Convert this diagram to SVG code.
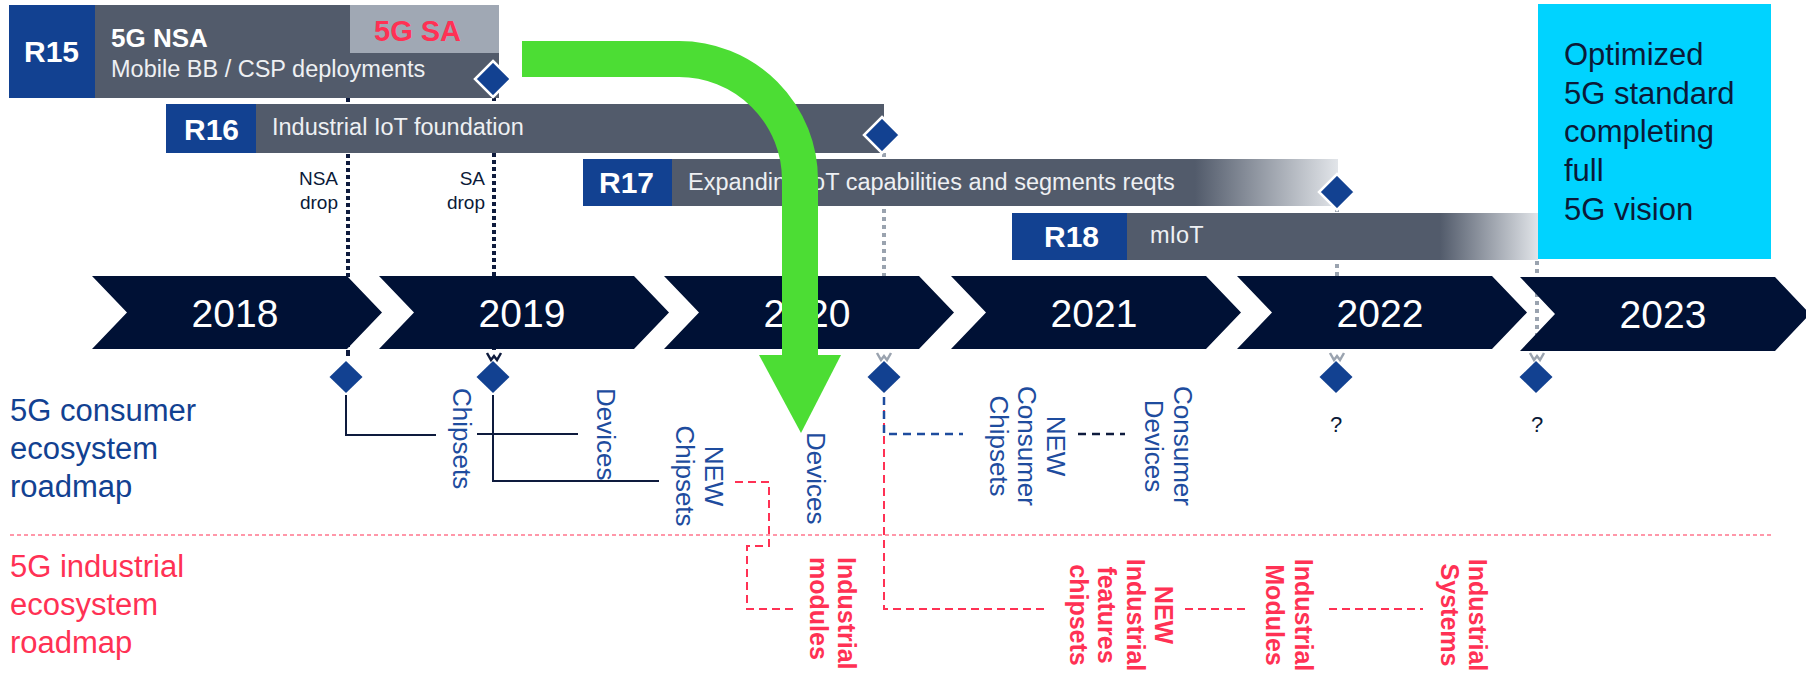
<svg xmlns="http://www.w3.org/2000/svg" width="1806" height="673" viewBox="0 0 1806 673">
<defs>
<linearGradient id="g17" gradientUnits="userSpaceOnUse" x1="1195" y1="0" x2="1340" y2="0"><stop offset="0" stop-color="#525B6B"/><stop offset="1" stop-color="#E4E7EB"/></linearGradient>
<linearGradient id="g18" gradientUnits="userSpaceOnUse" x1="1440" y1="0" x2="1540" y2="0"><stop offset="0" stop-color="#525B6B"/><stop offset="1" stop-color="#E4E7EB"/></linearGradient>
<style>
.bar{fill:#525B6B}
.rbox{fill:#124191}
.rl{font-family:"Liberation Sans",Arial,sans-serif;font-weight:bold;font-size:30px;fill:#fff}
.desc{font-family:"Liberation Sans",Arial,sans-serif;font-size:23.5px;fill:#EEF0F3}
.chev{fill:#001135}
.year{font-family:"Liberation Sans",Arial,sans-serif;font-size:39px;fill:#fff;text-anchor:middle}
.dia{fill:#124191}
.diaw{fill:#124191;stroke:#fff;stroke-width:2.5}
.bl{font-family:"Liberation Sans",Arial,sans-serif;font-size:26px;fill:#1E4C9E}
.rd{font-family:"Liberation Sans",Arial,sans-serif;font-weight:bold;font-size:25px;fill:#FF3154}
.nv{font-family:"Liberation Sans",Arial,sans-serif;fill:#0B1A38}
.side{font-family:"Liberation Sans",Arial,sans-serif;font-size:31px}
.dotn{stroke:#0E1B3D;stroke-width:4;stroke-dasharray:4 3;fill:none}
.dotg{stroke:#9AA3AF;stroke-width:4;stroke-dasharray:4 4;fill:none}
.solid{stroke:#0E1B3D;stroke-width:2;fill:none}
.rdash{stroke:#FF3154;stroke-width:2;stroke-dasharray:8 5;fill:none}
.bdash{stroke:#1E4C9E;stroke-width:2.5;stroke-dasharray:8 6;fill:none}
.ndash{stroke:#0E1B3D;stroke-width:2.5;stroke-dasharray:8 6;fill:none}
.wn{stroke:#0E1B3D;stroke-width:2.5;fill:none}
.wg{stroke:#9AA3AF;stroke-width:2.5;fill:none}
</style>
</defs>
<rect width="1806" height="673" fill="#fff"/>

<g id="connectors">
<line class="dotn" x1="348" y1="98" x2="348" y2="357"/>
<line class="dotn" x1="494" y1="97" x2="494" y2="350"/>
<path class="wn" d="M487,353 L491,360 L494,356 L497,360 L501,353"/>
<line class="dotg" x1="884" y1="153" x2="884" y2="350"/>
<path class="wg" d="M877,353 L881,360 L884,356 L887,360 L891,353"/>
<line class="dotg" x1="1337" y1="208" x2="1337" y2="350"/>
<path class="wg" d="M1330,353 L1334,360 L1337,356 L1340,360 L1344,353"/>
<line class="dotg" x1="1537" y1="261" x2="1537" y2="350"/>
<path class="wg" d="M1530,353 L1534,360 L1537,356 L1540,360 L1544,353"/>
<path class="solid" d="M346,395 V435 H436"/>
<path class="solid" d="M493,395 V481 H659"/>
<path class="solid" d="M477,434 H578"/>
<path class="rdash" d="M735,482 H769 V546 H747 V609 H793"/>
<path class="rdash" d="M884,397 V609 H1045"/>
<path class="bdash" d="M884,397 V434 H963"/>
<path class="ndash" d="M1078,434 H1125"/>
<path class="rdash" d="M1185,609 H1249"/>
<path class="rdash" d="M1329,609 H1423"/>
<line x1="10" y1="535" x2="1771" y2="535" stroke="#FF3154" stroke-width="1.2" stroke-dasharray="4 3"/>
</g>

<g id="r15">
<rect class="bar" x="95" y="5" width="404" height="93"/>
<rect x="350" y="5" width="149" height="48" fill="#A0A8B4"/>
<rect class="rbox" x="9" y="5" width="86" height="93"/>
<text class="rl" x="24" y="62">R15</text>
<text x="111" y="47" font-family="Liberation Sans, Arial, sans-serif" font-weight="bold" font-size="26" fill="#fff">5G NSA</text>
<text x="374" y="41" font-family="Liberation Sans, Arial, sans-serif" font-weight="bold" font-size="29" fill="#FF3154">5G SA</text>
<text class="desc" x="111" y="77">Mobile BB / CSP deployments</text>
<polygon class="diaw" points="493,61 511,79 493,97 475,79"/>
</g>

<g id="r16">
<rect class="bar" x="256" y="104" width="628" height="49"/>
<rect class="rbox" x="166" y="104" width="90" height="49"/>
<text class="rl" x="184" y="140">R16</text>
<text class="desc" x="272" y="135">Industrial IoT foundation</text>
<polygon class="diaw" points="882,117 900,135 882,153 864,135"/>
</g>

<g id="drops">
<text class="nv" font-size="19" text-anchor="end" x="338" y="185">NSA</text>
<text class="nv" font-size="19" text-anchor="end" x="338" y="209">drop</text>
<text class="nv" font-size="19" text-anchor="end" x="485" y="185">SA</text>
<text class="nv" font-size="19" text-anchor="end" x="485" y="209">drop</text>
</g>

<g id="r17">
<rect x="672" y="159" width="666" height="47" fill="url(#g17)"/>
<rect class="rbox" x="583" y="159" width="89" height="47"/>
<text class="rl" x="599" y="193">R17</text>
<text class="desc" x="688" y="190">Expanding IoT capabilities and segments reqts</text>
<polygon class="diaw" points="1337,174 1355,192 1337,210 1319,192"/>
</g>

<g id="r18">
<rect x="1127" y="213" width="411" height="47" fill="url(#g18)"/>
<rect class="rbox" x="1012" y="213" width="115" height="47"/>
<text class="rl" x="1044" y="247">R18</text>
<text class="desc" x="1150" y="243">mIoT</text>
</g>

<g id="vision">
<rect x="1538" y="4" width="233" height="255" fill="#00D3FF"/>
<text class="nv" font-size="31" x="1564" y="65">Optimized</text>
<text class="nv" font-size="31" x="1564" y="104">5G standard</text>
<text class="nv" font-size="31" x="1564" y="142">completing</text>
<text class="nv" font-size="31" x="1564" y="181">full</text>
<text class="nv" font-size="31" x="1564" y="220">5G vision</text>
</g>

<g id="y2018"><polygon class="chev" points="92,276 347,276 382,312.5 347,349 92,349 127,312.5"/><text class="year" x="235" y="327">2018</text></g>
<g id="y2019"><polygon class="chev" points="379,276 634,276 669,312.5 634,349 379,349 414,312.5"/><text class="year" x="522" y="327">2019</text></g>
<g id="y2020"><polygon class="chev" points="664,276 919,276 954,312.5 919,349 664,349 699,312.5"/><text class="year" x="807" y="327">2020</text></g>
<g id="y2021"><polygon class="chev" points="951,276 1206,276 1241,312.5 1206,349 951,349 986,312.5"/><text class="year" x="1094" y="327">2021</text></g>
<g id="y2022"><polygon class="chev" points="1237,276 1492,276 1527,312.5 1492,349 1237,349 1272,312.5"/><text class="year" x="1380" y="327">2022</text></g>
<g id="y2023"><polygon class="chev" points="1520,277 1775,277 1810,314 1775,351 1520,351 1555,314"/><text class="year" x="1663" y="328">2023</text></g>

<g id="milestones">
<rect x="346" y="352" width="4" height="4" fill="#0E1B3D"/>
<polygon class="dia" points="346,361 362.5,377 346,393 329.5,377"/>
<polygon class="dia" points="493,361 509.5,377 493,393 476.5,377"/>
<polygon class="dia" points="884,361 900.5,377 884,393 867.5,377"/>
<polygon class="dia" points="1336,361 1352.5,377 1336,393 1319.5,377"/>
<polygon class="dia" points="1536,361 1552.5,377 1536,393 1519.5,377"/>
<text class="nv" font-size="22" text-anchor="middle" x="1336" y="432">?</text>
<text class="nv" font-size="22" text-anchor="middle" x="1537" y="432">?</text>
</g>

<g id="consumer-label">
<text class="side" fill="#124191" x="10" y="421">5G consumer</text>
<text class="side" fill="#124191" x="10" y="459">ecosystem</text>
<text class="side" fill="#124191" x="10" y="497">roadmap</text>
</g>
<g id="industrial-label">
<text class="side" fill="#FF3154" x="10" y="577">5G industrial</text>
<text class="side" fill="#FF3154" x="10" y="615">ecosystem</text>
<text class="side" fill="#FF3154" x="10" y="653">roadmap</text>
</g>

<g id="chipsets2018"><text class="bl" transform="translate(453,388) rotate(90)">Chipsets</text></g>
<g id="devices2019"><text class="bl" transform="translate(597,388) rotate(90)">Devices</text></g>
<g id="newchipsets"><text class="bl" text-anchor="middle" transform="translate(705,476) rotate(90)"><tspan x="0" y="0">NEW</tspan><tspan x="0" y="29">Chipsets</tspan></text></g>
<g id="devices2020"><text class="bl" transform="translate(807,432) rotate(90)">Devices</text></g>
<g id="newconsumerchipsets"><text class="bl" text-anchor="middle" transform="translate(1047,446) rotate(90)"><tspan x="0" y="0">NEW</tspan><tspan x="0" y="29">Consumer</tspan><tspan x="0" y="57">Chipsets</tspan></text></g>
<g id="consumerdevices"><text class="bl" text-anchor="middle" transform="translate(1174,446) rotate(90)"><tspan x="0" y="0">Consumer</tspan><tspan x="0" y="29">Devices</tspan></text></g>

<g id="industrialmodules"><text class="rd" transform="translate(838,557) rotate(90)"><tspan x="0" y="0">Industrial</tspan><tspan x="0" y="28">modules</tspan></text></g>
<g id="newindustrialchipsets"><text class="rd" text-anchor="middle" transform="translate(1155,615) rotate(90)"><tspan x="0" y="0">NEW</tspan><tspan x="0" y="28.5">Industrial</tspan><tspan x="0" y="57">features</tspan><tspan x="0" y="85.5">chipsets</tspan></text></g>
<g id="industrialModules2"><text class="rd" text-anchor="middle" transform="translate(1295,615) rotate(90)"><tspan x="0" y="0">Industrial</tspan><tspan x="0" y="29">Modules</tspan></text></g>
<g id="industrialsystems"><text class="rd" text-anchor="middle" transform="translate(1469,615) rotate(90)"><tspan x="0" y="0">Industrial</tspan><tspan x="0" y="28">Systems</tspan></text></g>

<g id="green-arrow">
<path d="M522,59 H679 A121,121 0 0 1 800,180 V357" fill="none" stroke="#4CDD34" stroke-width="36"/>
<polygon points="759,355 841,355 801,433" fill="#4CDD34"/>
</g>
</svg>
